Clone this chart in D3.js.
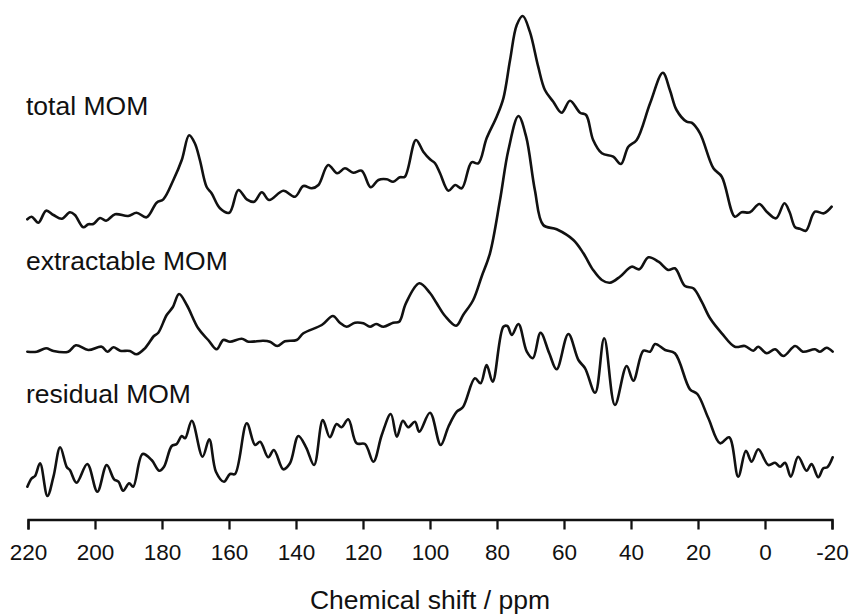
<!DOCTYPE html>
<html>
<head>
<meta charset="utf-8">
<script src="https://cdn.jsdelivr.net/npm/d3@7"></script>
<style>
  html, body { margin: 0; padding: 0; background: #fff; }
  svg { display: block; }
  text { font-family: "Liberation Sans", Arial, sans-serif; fill: #111; }
</style>
</head>
<body>
<svg id="chart" width="851" height="614"></svg>
<script>
// ---- data: [chemical shift (ppm), intensity above trace baseline (a.u.)] ----
const totalMOM = [
  [220.2,0.7],[218.9,3.3],[216.9,-2.7],[214.6,9.3],[212.4,5],[209.9,1.3],[207.5,7.7],[206.0,5],
  [203.5,-7.3],[202.0,-4.3],[200.5,-4],[198.5,2],[196.7,-0.7],[194.0,5.7],[190.1,4],[187.6,7.3],
  [184.6,2.7],[181.6,17.3],[179.6,20.7],[176.6,40],[174.1,60],[171.9,84.7],[170.2,76.7],[168.7,60],
  [166.7,33.3],[165.2,26.7],[162.7,11.7],[159.9,7.3],[157.2,30],[154.7,20.7],[152.5,18.3],[150.2,27.7],
  [148.0,20],[143.8,29.3],[140.3,23.3],[137.8,34],[135.3,31.7],[133.3,35],[130.4,55],[127.7,46.7],
  [125.4,51.7],[122.9,47.3],[120.4,49.3],[117.7,32.7],[115.4,40],[112.9,40.7],[111.0,38.3],[109.0,42.7],
  [107.5,43.3],[104.2,80],[102.0,68.3],[100.0,60.7],[98.5,56.7],[97.0,46.7],[94.5,29.3],[92.5,35],
  [90.5,31.7],[87.6,57.7],[85.6,56.7],[83.1,81.7],[80.1,103.3],[78.1,121.7],[76.1,160],[74.1,195],
  [72.3,204],[70.2,188.3],[67.7,153.3],[65.7,130],[63.2,118.3],[60.7,107.3],[58.2,119.3],[55.2,107.3],
  [53.4,105],[51.3,80],[48.7,66.7],[45.3,63.3],[43.0,56],[40.8,73.3],[38.3,80],[34.3,116.7],
  [30.5,147.3],[28.4,130],[26.4,110],[23.4,98.3],[21.9,97.3],[19.4,86.7],[15.4,51.7],[12.9,43.3],
  [9.0,3.3],[7.0,7.7],[4.5,7.7],[1.7,16],[-0.5,8.3],[-3.3,1.7],[-5.8,16.7],[-7.3,8.3],
  [-9.0,-7.3],[-10.4,-8.7],[-12.2,-10.7],[-14.9,8.3],[-17.6,6.7],[-19.9,13.3]
];
const extractableMOM = [
  [220.2,0.3],[217.4,0.3],[214.6,3.7],[212.4,1],[208.0,0.3],[205.7,6.7],[202.0,2],[198.0,5.3],
  [196.3,0.3],[194.5,4.7],[192.5,1.3],[189.6,1],[187.6,-2.3],[185.1,3.7],[182.4,16],[181.1,19.3],
  [178.6,37],[176.8,44.7],[174.9,58],[172.6,47],[169.2,23.7],[166.2,12],[163.7,2.7],[161.7,12],
  [159.7,10.3],[156.2,13.3],[154.2,10.3],[149.8,11.3],[147.8,10.3],[145.6,6],[143.3,10.7],[139.8,12],
  [137.8,18.7],[132.3,27],[129.0,36],[126.9,29.3],[124.9,25.3],[122.4,29.3],[119.9,28.7],[117.9,25.3],
  [116.1,28],[113.9,25.3],[111.0,29.3],[109.2,30.3],[107.2,48.7],[103.2,68.7],[100.0,59],[98.0,48.7],
  [95.5,36],[92.2,26.3],[90.1,37],[87.1,52],[84.6,75.3],[82.1,98.7],[79.1,152],[76.6,202],
  [73.6,236],[71.3,215.3],[68.7,162],[66.2,127],[62.2,122.7],[57.2,112],[54.2,98.7],[51.3,82],
  [48.7,72],[46.3,69.3],[43.3,75.3],[39.8,85.3],[37.5,82.7],[34.8,94.7],[31.8,90.3],[28.9,82],
  [26.9,83.7],[23.9,66],[21.4,63.7],[18.9,50.3],[16.4,33.7],[12.9,18.7],[9.0,5.3],[6.0,6],
  [3.5,1.3],[2.0,5.3],[-0.5,-1.3],[-3.0,2.7],[-5.5,-4],[-9.0,6],[-11.3,0.3],[-14.9,2.7],
  [-16.4,0.3],[-18.4,4.3],[-20.2,0.3]
];
const residualMOM = [
  [220.2,3.3],[218.9,11.7],[217.9,14],[216.4,26.7],[214.2,-6],[212.4,13.3],[210.4,42.7],[208.4,22.7],
  [207.5,20],[205.5,7.3],[202.3,26],[199.3,-1.7],[196.5,25],[194.3,10.7],[193.0,8.3],[191.6,-0.7],
  [189.8,6.7],[188.6,3.3],[185.8,36],[183.1,30],[180.8,19.3],[179.4,23.3],[177.1,44],[175.6,46],
  [174.1,54],[173.1,51.7],[171.1,69.3],[167.9,33.3],[165.9,50.7],[163.9,18.3],[161.5,8.3],[159.7,16],
  [158.2,16],[154.7,66.7],[152.2,45],[150.7,48.3],[148.3,32.7],[146.6,40],[143.8,20.7],[141.8,26.7],
  [139.3,54],[137.0,42.7],[134.6,25],[132.0,70],[129.9,52.7],[127.9,66],[126.4,62.7],[124.4,70.7],
  [121.9,46.7],[119.4,46],[116.9,28.3],[114.4,55],[111.7,76],[109.9,53.3],[108.1,69.3],[106.5,62.7],
  [104.5,68.3],[103.2,58.3],[100.0,77.3],[96.8,45],[94.5,63.3],[92.0,78.3],[90.2,82.7],[86.6,111.7],
  [84.9,106.7],[83.1,125],[81.3,108.3],[78.1,163.3],[76.9,164],[75.6,155],[73.6,166],[71.1,138.3],
  [69.3,131.7],[67.0,157.3],[64.4,136.7],[62.2,120.7],[58.7,156],[55.7,130],[53.7,121.7],[50.7,97.3],
  [48.0,151.7],[44.8,85],[41.3,124],[39.3,109.3],[36.3,139.3],[34.3,138.3],[32.8,146],[29.8,140],
  [26.9,136.7],[22.4,100.7],[20.2,96],[16.9,71.7],[13.4,46.7],[10.7,52.7],[8.0,13.3],[5.7,39.3],
  [4.0,28.3],[2.0,40.7],[-1.0,25],[-3.0,27.3],[-4.5,23.3],[-6.0,27.3],[-7.7,13.3],[-9.9,33.3],
  [-12.4,19.3],[-13.9,26],[-15.9,12.7],[-17.4,21.7],[-18.6,22.7],[-20.2,32.7]
];
const seriesNames = ["total MOM", "extractable MOM", "residual MOM"];
const seriesOffsets = [299, 167, 29];          // vertical stacking offset (a.u.)
const xTicks = [220, 200, 180, 160, 140, 120, 100, 80, 60, 40, 20, 0, -20];
const xDomain = [220, -20];
const xTitle = "Chemical shift / ppm";

// ---- drawing ----
const svg = d3.select("#chart");
const x = d3.scaleLinear().domain(xDomain).range([28, 832]);
const y = d3.scaleLinear().domain([0, 500]).range([519, 19]);

const allSeries = [totalMOM, extractableMOM, residualMOM];
const labelY = [115, 270, 403];

allSeries.forEach((data, i) => {
  const line = d3.line()
    .x(d => x(d[0]))
    .y(d => y(d[1] + seriesOffsets[i]))
    .curve(d3.curveCatmullRom.alpha(0.5));
  svg.append("path")
    .datum(data)
    .attr("d", line)
    .attr("fill", "none")
    .attr("stroke", "#111")
    .attr("stroke-width", 2.6)
    .attr("stroke-linejoin", "round")
    .attr("stroke-linecap", "round");
  svg.append("text")
    .attr("x", 26)
    .attr("y", labelY[i])
    .attr("font-size", 26.5)
    .text(seriesNames[i]);
});

const axis = d3.axisBottom(x)
  .tickValues(xTicks)
  .tickFormat(d => String(d))
  .tickSize(10)
  .tickPadding(15);

const gx = svg.append("g")
  .attr("transform", "translate(0,519.5)")
  .call(axis);
gx.select(".domain").attr("stroke", "#111").attr("stroke-width", 2.3);
gx.selectAll(".tick line").attr("stroke", "#111").attr("stroke-width", 2.3);
gx.selectAll(".tick text")
  .attr("font-size", 22.5)
  .attr("font-family", "'Liberation Sans', Arial, sans-serif")
  .attr("fill", "#111");

svg.append("text")
  .attr("x", x(100))
  .attr("y", 609)
  .attr("text-anchor", "middle")
  .attr("font-size", 26.5)
  .text(xTitle);
</script>
</body>
</html>
